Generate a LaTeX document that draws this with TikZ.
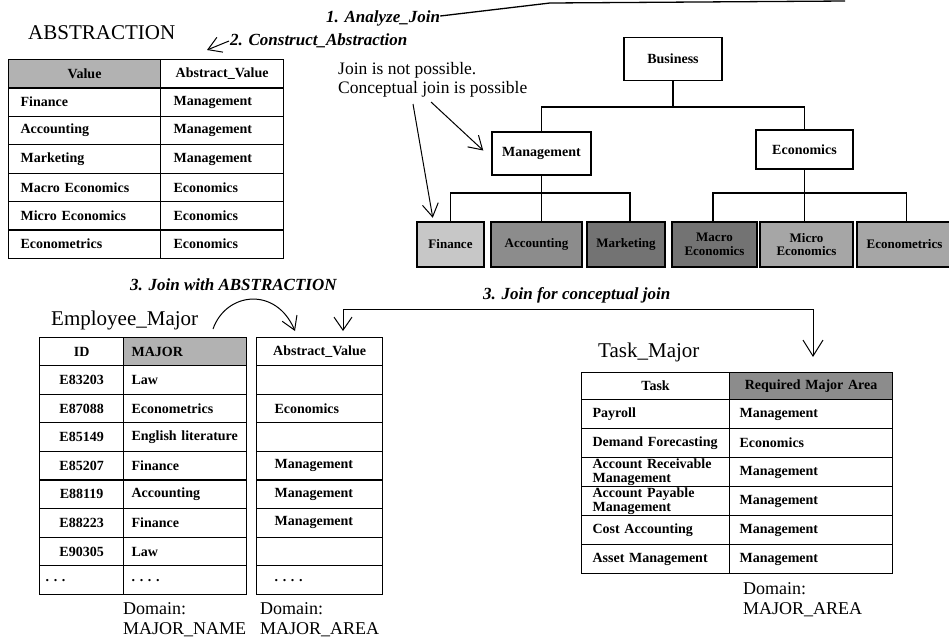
\documentclass[tikz,border=0pt]{standalone}
\usepackage{fontspec}
\setmainfont{Liberation Serif}
\usetikzlibrary{arrows.meta}
\begin{document}
\begin{tikzpicture}[x=1pt,y=-1pt,
  title/.style={font=\fontsize{21}{24}\selectfont, inner sep=0pt, anchor=west},
  steplbl/.style={font=\fontsize{17}{20}\selectfont\bfseries\itshape, inner sep=0pt, anchor=west},
  note/.style={font=\fontsize{17.5}{19}\selectfont, inner sep=0pt, anchor=west, align=left},
  dom/.style={font=\fontsize{18}{20}\selectfont, inner sep=0pt, anchor=west, align=left},
  cell/.style={draw, line width=1.2pt, anchor=north west, inner ysep=0pt, font=\fontsize{14}{13.5}\selectfont\bfseries},
  hdshade/.style={fill=black!30},
  absL/.style={cell, text width=128pt, inner xsep=12pt, minimum height=28.4pt, align=left},
  absR/.style={cell, text width=97pt, inner xsep=13pt, minimum height=28.4pt, align=left},
  empA/.style={cell, text width=72pt, inner xsep=6pt, align=center},
  empB/.style={cell, text width=107pt, inner xsep=8pt, align=left},
  empC/.style={cell, text width=90pt, inner xsep=18pt, align=left},
  taskA/.style={cell, text width=126pt, inner xsep=11pt, align=left},
  taskB/.style={cell, text width=143pt, inner xsep=10pt, align=left},
  tbox/.style={draw, line width=1.5pt, inner sep=0pt, font=\fontsize{14}{16}\selectfont\bfseries},
  leaf/.style={draw, line width=2.5pt, inner sep=0pt, minimum height=45pt, font=\fontsize{13}{13.5}\selectfont\bfseries, align=center},
  conn/.style={line width=1.5pt},
  arr/.style={line width=1pt, -{Straight Barb[length=13pt,width=16pt,line width=1pt]}},
]
\fill[white] (0,0) rectangle (949,641);
\useasboundingbox (0,0) rectangle (949,641);

% ---------- ABSTRACTION table ----------
\node[title] (abst) at (28,33) {ABSTRACTION};
\node[absL, hdshade, align=center] (abs-h1) at (8,59) {Value};
\node[absR, align=center] (abs-h2) at (160,59) {Abstract\_Value};
\foreach \a/\b [count=\i] in {Finance/Management, Accounting/Management, Marketing/Management, Macro Economics/Economics, Micro Economics/Economics, Econometrics/Economics}{
  \node[absL] (abs-\i-1) at (8,{59+28.4*\i}) {\a};
  \node[absR] (abs-\i-2) at (160,{59+28.4*\i}) {\b};
}

% ---------- step labels ----------
\node[steplbl] (l1) at (326,18) {1. Analyze\_Join};
\node[steplbl] (l2) at (230,41) {2. Construct\_Abstraction};
\coordinate (t1) at (550,3);
\coordinate (t2) at (845,1);
\draw[line width=1.3pt] ([yshift=2pt]l1.east) -- (t1) -- (t2);
\coordinate (a2) at (207,50);
\draw[arr] ([xshift=-1pt]l2.west) -- (a2);

% ---------- hierarchy ----------
\node[tbox, minimum width=98pt, minimum height=43pt] (bus) at (673,59) {Business};
\node[tbox, minimum width=99pt, minimum height=43pt] (mgmt) at (541.5,153.5) {Management};
\node[tbox, minimum width=97pt, minimum height=39pt] (eco) at (804.5,149.5) {Economics};

\node[leaf, fill=black!22, minimum width=67pt] (fin) at (450.5,244.5) {Finance};
\node[leaf, fill=black!45, minimum width=91pt] (acc) at (536.5,244.5) {Accounting};
\node[leaf, fill=black!55, minimum width=78pt] (mar) at (626,244.5) {Marketing};
\node[leaf, fill=black!55, minimum width=85pt] (mac) at (714.5,244.5) {Macro\\Economics};
\node[leaf, fill=black!35, minimum width=93pt] (mic) at (806.5,244.5) {Micro\\Economics};
\node[leaf, fill=black!35, minimum width=95pt] (ecm) at (904.5,244.5) {Econometrics};

\coordinate (bbar) at (673,107);
\draw[conn] (bus.south) -- (bbar);
\draw[conn] (mgmt.north) |- (bbar) -| (eco.north);
\coordinate (mbar) at (541.5,193);
\draw[conn] (mgmt.south) -- (mgmt.south |- acc.north);
\draw[conn] (fin.north) |- (mbar) -| ([xshift=4pt]mar.north);
\coordinate (ebar) at (804.5,193);
\draw[conn] (eco.south) -- (eco.south |- mic.north);
\draw[conn] ([xshift=-1.5pt]mac.north) |- (ebar) -| ([xshift=2pt]ecm.north);

\node[note] (note) at (338,80) {Join is not possible.\\Conceptual join is possible};
\coordinate (n1) at (413,104);
\coordinate (n2) at (431,102);
\draw[arr] (n1) -- ([xshift=17pt,yshift=3pt]fin.north west);
\draw[arr] (n2) -- ([xshift=-8pt,yshift=3pt]mgmt.west);

% ---------- Employee_Major ----------
\node[steplbl] (l3) at (130,285) {3. Join with ABSTRACTION};
\node[title] (empt) at (51,320) {Employee\_Major};
\coordinate (c1) at (213,329);
\coordinate (c2) at (295,331);
\draw[arr] (c1) .. controls (226,292) and (276,286) .. (c2);

\node[empA, minimum height=28pt] (e0-a) at (39,337) {ID};
\node[empB, minimum height=28pt, hdshade] (e0-b) at (123,337) {MAJOR};
\node[empC, minimum height=28pt, align=center, inner xsep=6pt, text width=114pt] (e0-c) at (256,337) {Abstract\_Value};
\foreach \a/\b/\c [count=\i] in {E83203/Law/{}, E87088/Econometrics/Economics, E85149/English~literature/{}, E85207/Finance/Management, E88119/Accounting/Management, E88223/Finance/Management, E90305/Law/{}}{
  \node[empA, minimum height=28.6pt] (e\i-a) at (39,{365+28.6*(\i-1)}) {\a};
  \node[empB, minimum height=28.6pt] (e\i-b) at (123,{365+28.6*(\i-1)}) {\b};
  \node[empC, minimum height=28.6pt] (e\i-c) at (256,{365+28.6*(\i-1)}) {\c};
}
\node[empA, minimum height=28.6pt, align=left] (e8-a) at (39,{365+28.6*7}) {.\ .\ .};
\node[empB, minimum height=28.6pt] (e8-b) at (123,{365+28.6*7}) {.\ .\ .\ .};
\node[empC, minimum height=28.6pt] (e8-c) at (256,{365+28.6*7}) {.\ .\ .\ .};
\node[dom] (dom1) at (123,620) {Domain:\\MAJOR\_NAME};
\node[dom] (dom2) at (260,620) {Domain:\\MAJOR\_AREA};

% ---------- conceptual join arrow ----------
\node[steplbl] (l4) at (483,295) {3. Join for conceptual join};
\coordinate (k1) at (343,331);
\coordinate (k2) at (343,309);
\coordinate (k3) at (813,309);
\coordinate (k4) at (813,357);
\draw[line width=1pt, {Straight Barb[length=13pt,width=18pt,line width=1pt]}-{Straight Barb[length=16pt,width=20pt,line width=1pt]}] (k1) -- (k2) -- (k3) -- (k4);

% ---------- Task_Major ----------
\node[title] (taskt) at (598,352) {Task\_Major};
\node[taskA, minimum height=27pt, align=center] (t0-a) at (581,372) {Task};
\node[taskB, minimum height=27pt, align=center, fill=black!45] (t0-b) at (729,372) {Required Major Area};
\foreach \a/\b [count=\i] in {Payroll/Management, Demand Forecasting/Economics, {Account Receivable\\Management}/Management, {Account Payable\\Management}/Management, Cost Accounting/Management, Asset Management/Management}{
  \node[taskA, minimum height=29pt] (t\i-a) at (581,{399+29*(\i-1)}) {\a};
  \node[taskB, minimum height=29pt] (t\i-b) at (729,{399+29*(\i-1)}) {\b};
}
\node[dom] (dom3) at (743,600) {Domain:\\MAJOR\_AREA};
\end{tikzpicture}
\end{document}
